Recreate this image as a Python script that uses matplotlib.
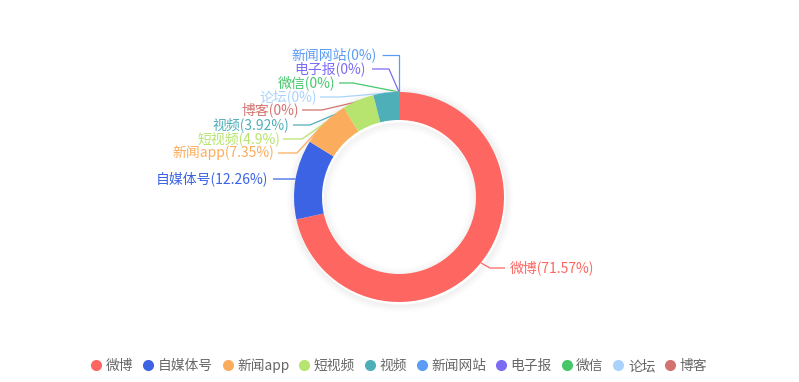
import numpy as np
import matplotlib.pyplot as plt
from matplotlib.lines import Line2D

plt.rcParams['font.family'] = ['Noto Sans CJK SC', 'DejaVu Sans']

# data
names = ["微博", "自媒体号", "新闻app", "短视频", "视频", "新闻网站", "电子报", "微信", "论坛", "博客"]
shares = [71.57, 12.26, 7.35, 4.9, 3.92, 0, 0, 0, 0, 0]
pct_text = ["71.57%", "12.26%", "7.35%", "4.9%", "3.92%", "0%", "0%", "0%", "0%", "0%"]
colors = ["#fd6661", "#3b63e3", "#fbad5d", "#b6e46e", "#4eafb8",
          "#5b9cf6", "#7b6cf3", "#47c76c", "#a9d3fd", "#d2736e"]

W, H = 799, 382
cx, cy, R, ring = 399, 197, 105, 28

fig = plt.figure(figsize=(W / 100, H / 100), dpi=100)
ax = fig.add_axes([0, 0, 1, 1])
ax.set_xlim(0, W)
ax.set_ylim(0, H)
ax.axis('off')

def Y(y):
    return H - y

# soft shadow round the ring
for k in range(8):
    c = plt.Circle((cx + 1, Y(cy) - 2), R + 1 + k, fill=False, lw=1.2,
                   color='#000000', alpha=0.035 * (8 - k) / 8, zorder=1)
    ax.add_patch(c)
    c = plt.Circle((cx + 1, Y(cy) - 2), R - ring - 1 - k, fill=False, lw=1.2,
                   color='#000000', alpha=0.03 * (8 - k) / 8, zorder=1)
    ax.add_patch(c)

vals = [v if v > 0 else 1e-9 for v in shares]
ax.pie(vals, colors=colors, center=(cx, Y(cy)), radius=R, startangle=90,
       counterclock=False, wedgeprops=dict(width=ring, linewidth=0, zorder=3))
ax.set_xlim(0, W)
ax.set_ylim(0, H)
ax.set_aspect('auto')

# mid-angle anchor points on the outer edge
cum = np.cumsum([0] + shares[:-1])
anchors = []
for c0, v in zip(cum, shares):
    a = np.deg2rad(90 - (c0 + v / 2) * 3.6)
    anchors.append((cx + R * np.cos(a), cy - R * np.sin(a)))

# label layout: (text x, text y, ha, leader points besides the anchor)
layout = [
    (510, 268, 'left', [(490, 268), (505, 268)]),
    (268, 179, 'right', [(295, 179), (273, 179)]),
    (274, 153, 'right', [(297, 153), (278, 153)]),
    (280, 139, 'right', [(302, 139), (283, 139)]),
    (289, 125, 'right', [(310, 125), (293, 125)]),
    (377, 55, 'right', [(399, 55), (382, 55)]),
    (366, 69, 'right', [(389, 69), (372, 69)]),
    (335, 83, 'right', [(353, 83), (339, 83)]),
    (317, 97, 'right', [(340, 97), (320, 97)]),
    (299, 110, 'right', [(322, 110), (302, 110)]),
]

for i, (tx, ty, ha, pts) in enumerate(layout):
    px, py = anchors[i]
    xs = [px] + [p[0] for p in pts]
    ys = [Y(py)] + [Y(p[1]) for p in pts]
    ax.plot(xs, ys, color=colors[i], lw=0.9, zorder=2, solid_capstyle='butt')
    ax.text(tx, Y(ty), f"{names[i]}({pct_text[i]})", color=colors[i],
            fontsize=10.0, ha=ha, va='center', zorder=4)

handles = [Line2D([], [], marker='o', ls='none', markersize=8,
                  markerfacecolor=c, markeredgewidth=0) for c in colors]
leg = fig.legend(handles, names, loc='center', bbox_to_anchor=(0.5, 1 - 366 / H),
                 ncol=len(names), frameon=False, handlelength=0.7, handletextpad=0.35,
                 columnspacing=0.72, fontsize=9.9, borderaxespad=0)
for t in leg.get_texts():
    t.set_color('#666666')

fig.savefig('out.png', dpi=100)
